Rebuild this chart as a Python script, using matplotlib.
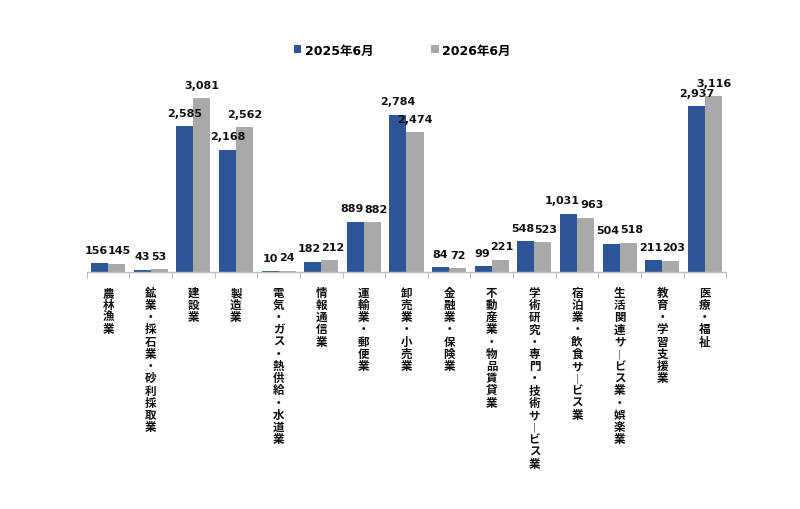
import matplotlib
matplotlib.use("Agg")
import matplotlib.pyplot as plt
import numpy as np

categories = [
    "農林漁業",
    "鉱業・採石業・砂利採取業",
    "建設業",
    "製造業",
    "電気・ガス・熱供給・水道業",
    "情報通信業",
    "運輸業・郵便業",
    "卸売業・小売業",
    "金融業・保険業",
    "不動産業・物品賃貸業",
    "学術研究・専門・技術サービス業",
    "宿泊業・飲食サービス業",
    "生活関連サービス業・娯楽業",
    "教育・学習支援業",
    "医療・福祉",
]
series_names = ["2025年6月", "2026年6月"]
values_2025 = [156, 43, 2585, 2168, 10, 182, 889, 2784, 84, 99, 548, 1031, 504, 211, 2937]
values_2026 = [145, 53, 3081, 2562, 24, 212, 882, 2474, 72, 221, 523, 963, 518, 203, 3116]

BLUE = "#2E5597"
GRAY = "#A9A9A9"
DPI = 100

plt.rcParams["font.family"] = ["DejaVu Sans", "Noto Sans CJK JP"]

fig = plt.figure(figsize=(8.0, 5.1), dpi=DPI)
ax = fig.add_axes([86.7 / 800, 1 - 273 / 510, (726.3 - 86.7) / 800, 213 / 510])

x = np.arange(len(categories))
w = 0.4
b1 = ax.bar(x - w / 2, values_2025, w, color=BLUE, label=series_names[0])
b2 = ax.bar(x + w / 2, values_2026, w, color=GRAY, label=series_names[1])

ax.set_xlim(-0.5, len(categories) - 0.5)
ax.set_ylim(0, 3770)
ax.set_yticks([])
for s in ["top", "right", "left"]:
    ax.spines[s].set_visible(False)
ax.spines["bottom"].set_color("#BFBFBF")
ax.spines["bottom"].set_linewidth(1.0)


def vertical(s):
    return "\n".join("︱" if c == "ー" else c for c in s)


ax.set_xticks(x)
ax.set_xticklabels([vertical(c) for c in categories], family=["Noto Sans CJK JP", "DejaVu Sans"],
                   fontsize=8.3, fontweight="bold", linespacing=0.92, color="#111111")
ax.tick_params(axis="x", which="major", length=0, pad=10)
ax.set_xticks(np.arange(len(categories) + 1) - 0.5, minor=True)
ax.tick_params(axis="x", which="minor", length=4, color="#BFBFBF", width=0.8)

off = 6
labels1 = []
labels2 = []
for xi, v in zip(x - w / 2, values_2025):
    labels1.append(ax.annotate(f"{v:,}", (xi, v), xytext=(0, off), textcoords="offset points",
                               ha="center", va="bottom", fontsize=8, fontweight="bold", color="#111111"))
for xi, v in zip(x + w / 2, values_2026):
    labels2.append(ax.annotate(f"{v:,}", (xi, v), xytext=(0, off), textcoords="offset points",
                               ha="center", va="bottom", fontsize=8, fontweight="bold", color="#111111"))

fig.canvas.draw()
r = fig.canvas.get_renderer()
for t1, t2 in zip(labels1, labels2):
    e1 = t1.get_window_extent(r)
    e2 = t2.get_window_extent(r)
    ox = e1.x1 - e2.x0
    oy = min(e1.y1, e2.y1) - max(e1.y0, e2.y0)
    if ox > 0 and oy > 0:
        sh = (ox / 2) * 72 / DPI
        t1.xyann = (-sh, off)
        t2.xyann = (sh, off)

fig.legend(handles=[b1, b2], labels=series_names, loc="center", ncol=2,
           bbox_to_anchor=(0.503, 1 - 51 / 510), frameon=False,
           prop={"size": 9, "weight": "bold", "family": ["DejaVu Sans", "Noto Sans CJK JP"]},
           handlelength=0.6, handleheight=0.6, handletextpad=0.3, columnspacing=4.6)

fig.savefig("out.png", dpi=DPI, facecolor="white")
